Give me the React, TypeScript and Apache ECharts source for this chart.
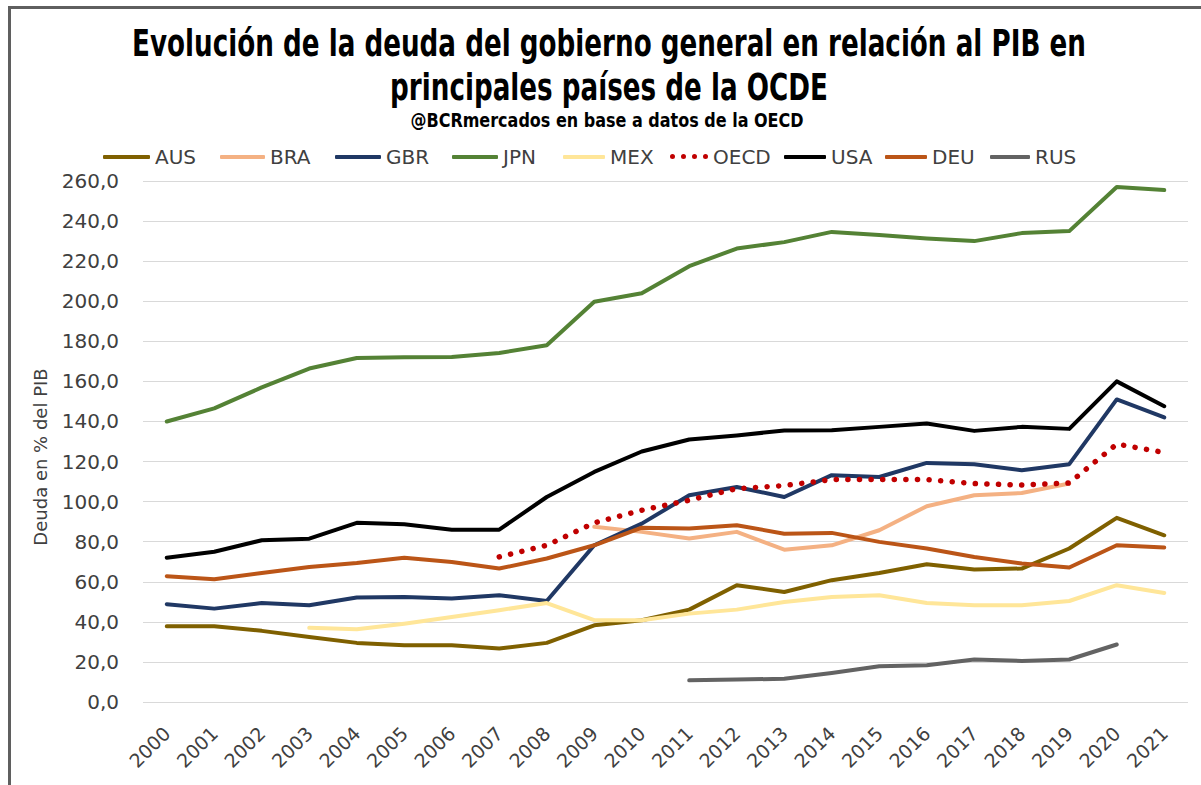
import React, { useEffect, useRef } from "react";
import * as echarts from "echarts";

const years = ["2000","2001","2002","2003","2004","2005","2006","2007","2008","2009","2010","2011","2012","2013","2014","2015","2016","2017","2018","2019","2020","2021"];

const AUS = [37.8,37.8,35.5,32.4,29.5,28.3,28.3,26.7,29.5,38.3,40.8,46.1,58.3,54.9,60.8,64.4,68.7,66.1,66.6,76.6,91.9,83.2];
const BRA = [null,null,null,null,null,null,null,null,null,87.4,84.9,81.6,84.9,76.0,78.2,85.7,97.7,103.2,104.3,109.0,null,null];
const GBR = [48.8,46.6,49.4,48.3,52.1,52.4,51.6,53.3,50.4,78.2,89.0,103.2,107.3,102.3,113.2,112.3,119.3,118.7,115.7,118.7,151.0,142.0];
const JPN = [140.0,146.5,157.0,166.4,171.7,172.0,172.2,174.2,178.0,199.7,204.0,217.5,226.3,229.5,234.6,233.0,231.3,230.0,234.0,235.0,257.0,255.5];
const MEX = [null,null,null,37.0,36.3,39.1,42.4,45.8,49.4,40.8,40.8,44.1,46.1,49.9,52.4,53.3,49.4,48.3,48.3,50.4,58.3,54.4];
const OECD = [null,null,null,null,null,null,null,72.4,78.2,89.4,95.7,100.7,106.5,108.0,111.0,111.0,111.0,109.0,108.3,109.3,128.7,124.5];
const USA = [72.0,75.0,80.7,81.5,89.4,88.7,86.0,86.0,102.3,114.8,125.0,131.0,133.0,135.5,135.6,137.3,139.0,135.3,137.3,136.3,160.0,147.6];
const DEU = [62.8,61.3,64.4,67.4,69.4,72.0,69.9,66.6,71.6,78.2,87.0,86.6,88.2,84.0,84.4,79.9,76.6,72.4,69.1,67.1,78.2,77.1];
const RUS = [null,null,null,null,null,null,null,null,null,null,null,10.8,11.2,11.6,14.5,17.8,18.3,21.2,20.5,21.2,28.7,null];

const seriesNames = ["AUS","BRA","GBR","JPN","MEX","OECD","USA","DEU","RUS"];
const seriesData = [AUS, BRA, GBR, JPN, MEX, OECD, USA, DEU, RUS];
const seriesColors = ["#7f6000","#f4b183","#203864","#548235","#ffe699","#c00000","#000000","#bb5517","#636363"];

const yTicks = { min: 0, max: 260, interval: 20 };

const titleLine1 = "Evolución de la deuda del gobierno general en relación al PIB en";
const titleLine2 = "principales países de la OCDE";
const subtitle = "@BCRmercados en base a datos de la OECD";
const yName = "Deuda en % del PIB";

const legendLeft = [103, 220, 335, 452, 563, 670, 784, 885, 990];
const legendWidth = [47, 45, 46, 46, 42, 38, 42, 42, 40];

const dotsIcon =
  "path://M0,2.5a2.5,2.5 0 1 0 5,0a2.5,2.5 0 1 0 -5,0z" +
  "M11,2.5a2.5,2.5 0 1 0 5,0a2.5,2.5 0 1 0 -5,0z" +
  "M22,2.5a2.5,2.5 0 1 0 5,0a2.5,2.5 0 1 0 -5,0z" +
  "M33,2.5a2.5,2.5 0 1 0 5,0a2.5,2.5 0 1 0 -5,0z";

const FONT = "DejaVu Sans";

export default function App() {
  const ref = useRef<HTMLDivElement>(null);

  useEffect(() => {
    document.body.style.margin = "0";
    if (!ref.current) return;
    const chart = echarts.init(ref.current, undefined, { renderer: "svg" });

    const legends = seriesNames.map((name, i) => ({
      data: [{ name, icon: name === "OECD" ? dotsIcon : "roundRect" }],
      left: legendLeft[i],
      top: name === "OECD" ? 146.5 : 147,
      itemWidth: legendWidth[i],
      itemHeight: name === "OECD" ? 5 : 4,
      padding: 0,
      selectedMode: false,
      itemStyle: { borderWidth: 0 },
      textStyle: { fontSize: 20, fontFamily: FONT, color: "#404040" },
    }));

    const series = seriesNames.map((name, i) => {
      const isDot = name === "OECD";
      return {
        name,
        type: "line",
        data: seriesData[i],
        symbol: "none",
        connectNulls: false,
        color: seriesColors[i],
        z: isDot ? 4 : 2,
        lineStyle: isDot
          ? { color: seriesColors[i], width: 5.5, type: [0.1, 11.5], cap: "round" }
          : { color: seriesColors[i], width: 4, cap: "round", join: "round" },
      };
    });

    chart.setOption({
      animation: false,
      backgroundColor: "#ffffff",
      textStyle: { fontFamily: FONT },
      graphic: [
        {
          type: "rect",
          shape: { x: 9.5, y: 7.5, width: 2000, height: 2000 },
          style: { fill: "none", stroke: "#5f5f5f", lineWidth: 3 },
          silent: true,
        },
        {
          type: "text",
          x: 609,
          y: 43,
          scaleX: 0.69,
          style: {
            text: titleLine1,
            fontSize: 38,
            fontWeight: "bold",
            fontFamily: FONT,
            fill: "#000000",
            textAlign: "center",
            textVerticalAlign: "middle",
          },
        },
        {
          type: "text",
          x: 609,
          y: 87,
          scaleX: 0.69,
          style: {
            text: titleLine2,
            fontSize: 38,
            fontWeight: "bold",
            fontFamily: FONT,
            fill: "#000000",
            textAlign: "center",
            textVerticalAlign: "middle",
          },
        },
        {
          type: "text",
          x: 607,
          y: 120,
          scaleX: 0.8,
          style: {
            text: subtitle,
            fontSize: 20,
            fontWeight: "bold",
            fontFamily: FONT,
            fill: "#000000",
            textAlign: "center",
            textVerticalAlign: "middle",
          },
        },
        {
          type: "text",
          x: 40,
          y: 457,
          rotation: Math.PI / 2,
          style: {
            text: yName,
            fontSize: 18,
            fontFamily: FONT,
            fill: "#404040",
            textAlign: "center",
            textVerticalAlign: "middle",
          },
        },
      ],
      legend: legends,
      grid: { left: 143, right: 13, top: 181, bottom: 83, containLabel: false },
      xAxis: {
        type: "category",
        data: years,
        boundaryGap: true,
        axisTick: { show: false },
        axisLine: { show: false },
        axisLabel: {
          rotate: 45,
          margin: 28,
          fontSize: 19,
          fontFamily: FONT,
          color: "#404040",
          interval: 0,
        },
      },
      yAxis: {
        type: "value",
        min: yTicks.min,
        max: yTicks.max,
        interval: yTicks.interval,
        axisLine: { show: false },
        axisTick: { show: false },
        splitLine: { lineStyle: { color: "#d9d9d9", width: 1 } },
        axisLabel: {
          margin: 24,
          fontSize: 20,
          fontFamily: FONT,
          color: "#404040",
          formatter: (v: number) => v.toFixed(1).replace(".", ","),
        },
      },
      series,
    });

    return () => chart.dispose();
  }, []);

  return <div ref={ref} style={{ width: 1201, height: 785 }} />;
}
